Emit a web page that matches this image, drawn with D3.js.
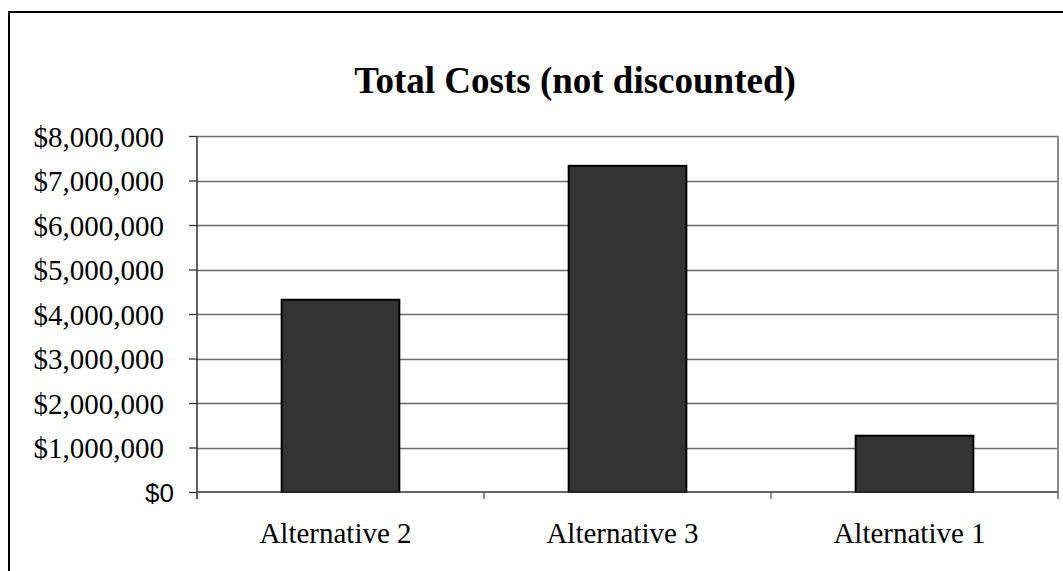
<!DOCTYPE html>
<html>
<head>
<meta charset="utf-8">
<script src="https://cdn.jsdelivr.net/npm/d3@7"></script>
<style>
  html, body { margin: 0; padding: 0; background: #fff; }
  svg { display: block; }
</style>
</head>
<body>
<svg id="chart" width="1063" height="571"></svg>
<script>
// Chart data
const categories = ["Alternative 2", "Alternative 3", "Alternative 1"];
const totalCosts = [4320000, 7330000, 1265000];
const yTicks = [0, 1000000, 2000000, 3000000, 4000000, 5000000, 6000000, 7000000, 8000000];
const chartTitle = "Total Costs (not discounted)";

const svg = d3.select("#chart");
const W = 1063, H = 571;
const plot = { left: 197, top: 136, right: 1058, bottom: 492 };

// Outer frame
svg.append("rect")
  .attr("x", 9).attr("y", 12)
  .attr("width", W + 20).attr("height", H + 20)
  .attr("fill", "#fff").attr("stroke", "#000").attr("stroke-width", 2);

// Title
svg.append("text")
  .attr("x", 575)
  .attr("y", 93)
  .attr("text-anchor", "middle")
  .attr("font-family", "'Liberation Serif', 'Times New Roman', serif")
  .attr("font-weight", "bold")
  .attr("font-size", 37)
  .attr("fill", "#000")
  .text(chartTitle);

const x = d3.scaleBand()
  .domain(categories)
  .range([plot.left, plot.right])
  .paddingInner(0.59)
  .paddingOuter(0.295);

const y = d3.scaleLinear()
  .domain([0, 8000000])
  .range([plot.bottom, plot.top]);

const fmt = d3.format("$,");

// Horizontal gridlines
svg.append("g")
  .selectAll("line")
  .data(yTicks.filter(d => d > 0))
  .join("line")
  .attr("x1", plot.left).attr("x2", plot.right)
  .attr("y1", d => Math.round(y(d)) + 0.5).attr("y2", d => Math.round(y(d)) + 0.5)
  .attr("stroke", "#6a6a6a").attr("stroke-width", 1.3);

// Right edge of plot area
svg.append("line")
  .attr("x1", plot.right).attr("x2", plot.right)
  .attr("y1", plot.top).attr("y2", plot.bottom)
  .attr("stroke", "#8a8a8a").attr("stroke-width", 2);

// Bars
svg.append("g")
  .selectAll("rect")
  .data(categories)
  .join("rect")
  .attr("x", d => x(d))
  .attr("y", (d, i) => y(totalCosts[i]))
  .attr("width", x.bandwidth())
  .attr("height", (d, i) => y(0) - y(totalCosts[i]))
  .attr("fill", "#333333")
  .attr("stroke", "#000").attr("stroke-width", 2);

// Y axis
const yAxis = d3.axisLeft(y)
  .tickValues(yTicks)
  .tickSize(8)
  .tickPadding(0)
  .tickFormat(fmt);
const gy = svg.append("g")
  .attr("transform", `translate(${plot.left},0)`)
  .call(yAxis);
gy.select(".domain").remove();
gy.append("line")
  .attr("x1", 0).attr("x2", 0)
  .attr("y1", plot.top).attr("y2", plot.bottom + 7)
  .attr("stroke", "#333").attr("stroke-width", 1.5);
gy.selectAll(".tick line").attr("stroke", "#333").attr("stroke-width", 1.3);
gy.selectAll(".tick text")
  .attr("fill", "#000")
  .attr("dy", "0.35em")
  .attr("x", d => d === 0 ? -23 : -33)
  .attr("font-family", d => d === 0
    ? "'Liberation Sans', Arial, sans-serif"
    : "'Liberation Serif', 'Times New Roman', serif")
  .attr("font-size", d => d === 0 ? 26 : 29);

// X axis
const xAxis = d3.axisBottom(x).tickSize(0).tickPadding(0);
const gx = svg.append("g")
  .attr("transform", `translate(0,${plot.bottom})`)
  .call(xAxis);
gx.select(".domain").remove();
gx.append("line")
  .attr("x1", plot.left).attr("x2", plot.right)
  .attr("y1", 0).attr("y2", 0)
  .attr("stroke", "#333").attr("stroke-width", 1.5);
// Tick marks between categories
const step = x.step();
const boundaries = d3.range(categories.length + 1).map(i => plot.left + i * step);
gx.selectAll(".boundary")
  .data(boundaries)
  .join("line")
  .attr("class", "boundary")
  .attr("x1", d => d).attr("x2", d => d)
  .attr("y1", 0).attr("y2", 7)
  .attr("stroke", "#555").attr("stroke-width", 1.3);
gx.selectAll(".tick text")
  .attr("fill", "#000")
  .attr("x", -5)
  .attr("y", 51)
  .attr("dy", 0)
  .attr("font-family", "'Liberation Serif', 'Times New Roman', serif")
  .attr("font-size", 29);
</script>
</body>
</html>
